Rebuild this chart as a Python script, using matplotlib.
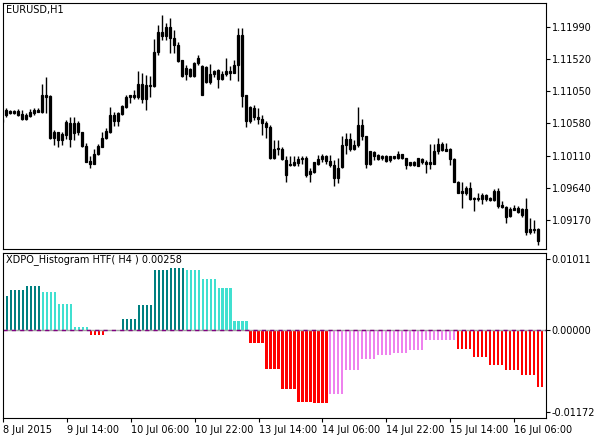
import matplotlib
matplotlib.use("Agg")
import matplotlib.pyplot as plt
import numpy as np

opens = [1.1065,1.1070,1.1076,1.1073,1.1076,1.1071,1.1065,1.1069,1.1073,1.1078,
1.1074,1.1097,1.1098,1.1036,1.1045,1.1034,1.1041,1.1059,1.1044,1.1058,
1.1045,1.1025,1.1003,1.0999,1.1013,1.1024,1.1036,1.1045,1.1070,1.1061,
1.1072,1.1082,1.1097,1.1097,1.1096,1.1116,1.1114,1.1113,1.1113,1.1162,
1.1192,1.1185,1.1198,1.1182,1.1173,1.1150,1.1130,1.1138,1.1127,1.1146,
1.1100,1.1140,1.1119,1.1130,1.1136,1.1122,1.1130,1.1132,1.1132,1.1143,
1.1187,1.1099,1.1062,1.1080,1.1068,1.1065,1.1059,1.1052,1.1007,1.1020,
1.1021,1.1005,1.0997,1.0997,1.1000,1.1006,1.1007,1.0984,1.0987,1.0999,
1.1006,1.1011,1.1003,1.0997,1.0979,1.0994,1.1026,1.1035,1.1021,1.1027,
1.1056,1.1039,1.0998,1.1016,1.1012,1.1007,1.1011,1.1005,1.1007,1.1007,
1.1013,1.1007,1.0997,1.1002,1.0996,1.1006,1.1002,1.0998,1.0999,1.1017,
1.1028,1.1020,1.1020,1.1006,1.0973,1.0959,1.0957,1.0963,1.0949,1.0947,
1.0948,1.0954,1.0949,1.0946,1.0960,1.0939,1.0936,1.0923,1.0932,1.0934,
1.0925,1.0933,1.0899,1.0903,1.0904]
highs = [1.1068,1.1080,1.1078,1.1078,1.1079,1.1078,1.1073,1.1079,1.1080,1.1080,
1.1116,1.1125,1.1099,1.1048,1.1046,1.1046,1.1063,1.1067,1.1068,1.1061,
1.1046,1.1030,1.1010,1.1020,1.1028,1.1045,1.1051,1.1082,1.1074,1.1074,
1.1085,1.1099,1.1100,1.1107,1.1135,1.1131,1.1129,1.1127,1.1181,1.1201,
1.1216,1.1204,1.1211,1.1194,1.1176,1.1151,1.1143,1.1139,1.1147,1.1158,
1.1143,1.1142,1.1145,1.1136,1.1137,1.1134,1.1153,1.1141,1.1151,1.1197,
1.1197,1.1099,1.1083,1.1085,1.1080,1.1070,1.1061,1.1056,1.1033,1.1033,
1.1024,1.1010,1.1010,1.1011,1.1010,1.1010,1.1010,1.0993,1.1002,1.1012,
1.1014,1.1012,1.1012,1.1005,1.1007,1.1040,1.1044,1.1044,1.1034,1.1082,
1.1065,1.1040,1.1018,1.1017,1.1013,1.1012,1.1012,1.1011,1.1011,1.1018,
1.1014,1.1007,1.1002,1.1003,1.1008,1.1007,1.1005,1.1028,1.1028,1.1037,
1.1031,1.1029,1.1022,1.1007,1.0974,1.0972,1.0966,1.0972,1.0951,1.0956,
1.0956,1.0955,1.0950,1.0962,1.0963,1.0944,1.0937,1.0936,1.0939,1.0938,
1.0934,1.0949,1.0920,1.0917,1.0905]
lows = [1.1059,1.1068,1.1071,1.1071,1.1069,1.1063,1.1063,1.1067,1.1070,1.1074,
1.1073,1.1073,1.1035,1.1027,1.1024,1.1027,1.1035,1.1023,1.1034,1.1041,
1.1023,1.1001,1.0993,1.0998,1.1012,1.1023,1.1035,1.1044,1.1054,1.1054,
1.1070,1.1081,1.1087,1.1093,1.1093,1.1087,1.1078,1.1097,1.1111,1.1158,
1.1180,1.1180,1.1161,1.1160,1.1147,1.1126,1.1121,1.1126,1.1126,1.1143,
1.1099,1.1117,1.1116,1.1126,1.1110,1.1121,1.1127,1.1121,1.1131,1.1120,
1.1082,1.1053,1.1058,1.1063,1.1057,1.1041,1.1036,1.1006,1.1006,1.1012,
1.1005,1.0973,1.0996,1.0996,1.0996,1.0999,1.0980,1.0973,1.0985,1.0997,
1.1002,1.0999,1.0995,1.0966,1.0971,1.0993,1.1014,1.1017,1.1019,1.1024,
1.1034,1.0993,1.0997,1.1005,1.1005,1.1004,1.1001,1.1002,1.1006,1.1006,
1.1006,1.0991,1.0996,1.0996,1.0996,1.0999,1.0986,1.0991,1.0998,1.1014,
1.1017,1.1017,1.0997,1.0972,1.0956,1.0934,1.0954,1.0946,1.0930,1.0944,
1.0941,1.0944,1.0945,1.0944,1.0934,1.0934,1.0912,1.0921,1.0931,1.0927,
1.0922,1.0895,1.0897,1.0898,1.0881]
closes = [1.1060,1.1078,1.1073,1.1076,1.1070,1.1065,1.1070,1.1074,1.1078,1.1075,
1.1099,1.1099,1.1036,1.1045,1.1034,1.1043,1.1060,1.1035,1.1058,1.1045,
1.1025,1.1002,1.0999,1.1013,1.1025,1.1036,1.1047,1.1070,1.1061,1.1073,
1.1083,1.1097,1.1099,1.1099,1.1116,1.1093,1.1094,1.1114,1.1162,1.1192,
1.1186,1.1198,1.1182,1.1173,1.1149,1.1127,1.1139,1.1127,1.1146,1.1154,
1.1141,1.1119,1.1130,1.1134,1.1122,1.1130,1.1134,1.1134,1.1143,1.1187,
1.1098,1.1062,1.1082,1.1067,1.1065,1.1059,1.1052,1.1007,1.1021,1.1022,
1.1006,1.0983,1.0999,1.1002,1.1006,1.1007,1.0982,1.0988,1.1001,1.1006,
1.1011,1.1003,1.0997,1.0979,1.0993,1.1027,1.1035,1.1021,1.1027,1.1056,
1.1039,1.0999,1.1017,1.1010,1.1006,1.1011,1.1003,1.1010,1.1010,1.1013,
1.1007,1.0997,1.1001,1.0997,1.1007,1.1001,1.0999,1.1001,1.1017,1.1028,
1.1019,1.1018,1.1006,1.0973,1.0957,1.0957,1.0963,1.0947,1.0947,1.0949,
1.0954,1.0947,1.0946,1.0960,1.0938,1.0936,1.0922,1.0933,1.0934,1.0929,
1.0933,1.0899,1.0904,1.0904,1.0887]

hist_groups = [0.00487,0.00572,0.00633,0.00543,0.00373,0.00047,-0.00080,0.0,
0.00161,0.00350,0.00855,0.00883,0.00855,0.00727,0.00600,0.00132,
-0.00194,-0.00557,-0.00841,-0.01030,-0.01044,-0.00916,-0.00572,-0.00416,
-0.00364,-0.00331,-0.00288,-0.00151,-0.00151,-0.00274,-0.00392,-0.00505,
-0.00576,-0.00647,-0.00813]
group_sizes = [1] + [4]*33 + [2]
group_colors = [0,0,0,1,1,1,2,0,0,0,0,0,1,1,1,1,2,2,2,2,2,3,3,3,3,3,3,3,3,2,2,2,2,2,2]
palette = ["#008080", "#40E0D0", "#FF0000", "#EE82EE"]

price_ticks = [1.11990,1.11520,1.11050,1.10580,1.10110,1.09640,1.09170]
hist_ticks = [0.01011, 0.0, -0.01172]
hist_tick_labels = ["0.01011", "0.00000", "-0.01172"]
xtick_pos = [-1,15,31,47,63,79,95,111,127]
xtick_labels = ["8 Jul 2015","9 Jul 14:00","10 Jul 06:00","10 Jul 22:00","13 Jul 14:00",
                "14 Jul 06:00","14 Jul 22:00","15 Jul 14:00","16 Jul 06:00"]

W, H = 598, 438
fig = plt.figure(figsize=(W/100, H/100), dpi=100)
def axrect(x0, y0, x1, y1):
    return [x0/W, 1-y1/H, (x1-x0)/W, (y1-y0)/H]
ax1 = fig.add_axes(axrect(3, 3, 546, 249))
ax2 = fig.add_axes(axrect(3, 253, 546, 418))
xl = (-0.75, 135.0)

kc = np.arange(len(opens)) - 1
for k, o, h, l, c in zip(kc, opens, highs, lows, closes):
    ax1.vlines(k, l, h, color="black", lw=1)
    bot, top = min(o, c), max(o, c)
    hgt = max(top - bot, 0.00006)
    ax1.add_patch(plt.Rectangle((k-0.3, bot), 0.6, hgt,
                  facecolor="white" if c >= o else "black", edgecolor="black", lw=0.9))
ax1.set_xlim(*xl)
ax1.set_ylim(1.08747, 1.12336)
ax1.text(0.006, 0.99, "EURUSD,H1", transform=ax1.transAxes, fontsize=7, va="top")

vals = np.repeat(hist_groups, group_sizes)
cols = np.repeat(group_colors, group_sizes)
kh = np.arange(len(vals))
ax2.bar(kh, vals, width=0.55, color=[palette[c] for c in cols])
ax2.axhline(0, color="#a0a0a0", lw=1)
ax2.axhline(0, color="#800080", lw=1, ls=(0, (3, 3)))
ax2.set_xlim(*xl)
ax2.set_ylim(-0.01258, 0.01097)
ax2.text(0.006, 0.995, "XDPO_Histogram HTF( H4 ) 0.00258", transform=ax2.transAxes, fontsize=7, va="top")

for ax in (ax1, ax2):
    ax.yaxis.tick_right()
    ax.tick_params(axis="y", direction="out", length=3, labelsize=7, pad=1)
    for s in ax.spines.values():
        s.set_linewidth(0.8)
ax1.set_yticks(price_ticks)
ax1.set_yticklabels(["%.5f" % t for t in price_ticks])
ax1.set_xticks([])
ax2.set_yticks(hist_ticks)
ax2.set_yticklabels(hist_tick_labels)
ax2.set_xticks(xtick_pos)
ax2.set_xticklabels(xtick_labels, ha="left")
ax2.tick_params(axis="x", direction="out", length=3, labelsize=7, pad=2)

fig.savefig("out.png", dpi=100)
